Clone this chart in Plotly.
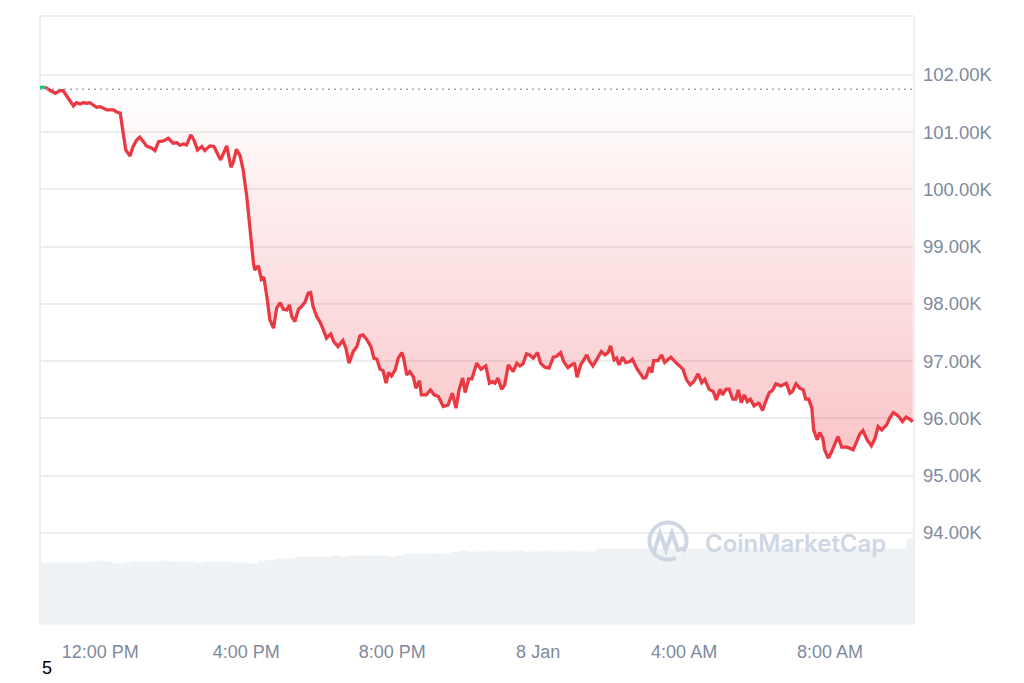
import numpy as np
import pandas as pd
import plotly.graph_objects as go

# ---------------- data ----------------
start = pd.Timestamp("2025-01-07 10:21")
window_minutes = 1437
baseline_price = 101.75  # K USD, opening price of the 24h window

price_minutes = [
    0, 8, 16, 25, 33, 38, 44, 49, 55, 60, 66, 71, 77, 82, 88, 93, 99, 104, 110, 115,
    121, 126, 132, 136, 141, 148, 153, 159, 164, 170, 175, 184, 189, 195, 203, 211, 219, 225, 230, 236,
    241, 248, 253, 259, 266, 271, 279, 286, 291, 297, 307, 314, 318, 323, 329, 334, 340, 345, 351, 353,
    359, 364, 368, 373, 378, 384, 389, 395, 400, 406, 410, 414, 419, 425, 430, 436, 441, 445, 449, 455,
    460, 466, 471, 478, 483, 490, 498, 503, 508, 515, 521, 526, 531, 537, 544, 549, 554, 559, 564, 569,
    573, 578, 584, 589, 595, 598, 603, 608, 614, 618, 624, 627, 635, 642, 648, 655, 663, 671, 678, 684,
    689, 695, 699, 705, 710, 718, 725, 733, 739, 744, 748, 753, 759, 764, 770, 778, 784, 789, 794, 800,
    805, 811, 818, 823, 830, 837, 844, 849, 856, 861, 868, 876, 879, 883, 889, 899, 904, 909, 915, 923,
    929, 934, 938, 944, 948, 952, 958, 963, 970, 974, 981, 986, 992, 996, 1002, 1006, 1009, 1016, 1022, 1027,
    1037, 1044, 1052, 1057, 1063, 1069, 1075, 1082, 1088, 1093, 1100, 1107, 1112, 1118, 1122, 1128, 1133, 1139, 1144, 1148,
    1153, 1158, 1163, 1168, 1174, 1181, 1183, 1188, 1193, 1199, 1204, 1210, 1218, 1227, 1233, 1237, 1243, 1249, 1255, 1259,
    1264, 1269, 1272, 1278, 1282, 1287, 1290, 1296, 1301, 1307, 1312, 1318, 1326, 1331, 1337, 1342, 1348, 1353, 1360, 1367,
    1373, 1378, 1384, 1392, 1397, 1403, 1411, 1418, 1424, 1430, 1435,
]
prices_k = [
    101.785, 101.785, 101.738, 101.680, 101.726, 101.726, 101.633, 101.563, 101.459, 101.516, 101.493, 101.516, 101.506, 101.516, 101.481, 101.436, 101.446, 101.424, 101.389, 101.389,
    101.389, 101.354, 101.331, 101.039, 100.690, 100.585, 100.748, 100.865, 100.912, 100.835, 100.760, 100.720, 100.678, 100.835, 100.847, 100.894, 100.807, 100.817, 100.772, 100.795,
    100.777, 100.952, 100.865, 100.690, 100.748, 100.678, 100.760, 100.748, 100.643, 100.515, 100.760, 100.388, 100.486, 100.702, 100.585, 100.341, 99.874, 99.293, 98.711, 98.594,
    98.664, 98.431, 98.466, 98.128, 97.721, 97.576, 97.925, 98.023, 97.907, 97.895, 97.983, 97.778, 97.691, 97.907, 97.953, 98.040, 98.187, 98.197, 97.953, 97.778,
    97.691, 97.546, 97.401, 97.476, 97.341, 97.254, 97.359, 97.226, 96.964, 97.167, 97.254, 97.441, 97.459, 97.383, 97.254, 97.052, 97.034, 96.860, 96.835, 96.615,
    96.800, 96.742, 96.847, 97.052, 97.149, 97.052, 96.760, 96.818, 96.720, 96.527, 96.660, 96.411, 96.411, 96.498, 96.411, 96.381, 96.206, 96.236, 96.440, 96.178,
    96.498, 96.707, 96.451, 96.689, 96.689, 96.964, 96.860, 96.917, 96.615, 96.643, 96.615, 96.702, 96.510, 96.585, 96.935, 96.818, 96.964, 96.917, 96.952, 97.127,
    97.109, 97.052, 97.149, 96.964, 96.894, 96.877, 97.069, 97.080, 97.149, 96.992, 96.887, 96.952, 96.952, 96.720, 96.935, 97.109, 96.992, 96.917, 97.034, 97.167,
    97.109, 97.149, 97.266, 97.022, 97.052, 96.935, 97.069, 96.975, 96.992, 97.034, 96.877, 96.790, 96.702, 96.713, 96.894, 96.800, 97.010, 97.010, 97.109, 96.975,
    97.069, 96.992, 96.917, 96.860, 96.673, 96.585, 96.643, 96.777, 96.625, 96.685, 96.510, 96.468, 96.323, 96.510, 96.411, 96.510, 96.510, 96.335, 96.335, 96.498,
    96.276, 96.411, 96.294, 96.335, 96.218, 96.266, 96.253, 96.136, 96.294, 96.451, 96.486, 96.603, 96.568, 96.615, 96.440, 96.468, 96.603, 96.528, 96.498, 96.335,
    96.335, 96.178, 95.799, 95.625, 95.752, 95.654, 95.450, 95.305, 95.403, 95.567, 95.682, 95.497, 95.497, 95.480, 95.450, 95.577, 95.729, 95.787, 95.625, 95.520,
    95.654, 95.857, 95.799, 95.887, 96.004, 96.101, 96.044, 95.944, 96.021, 95.986, 95.944,
]
green_count = 2  # first points above the opening price

volume_interval_min = 15
volumes_b = [
    20.26, 20.30, 20.20, 20.26, 20.50, 20.80, 20.90, 20.80, 20.00, 20.20,
    20.60, 20.60, 20.60, 21.00, 20.80, 20.60, 20.60, 20.50, 20.60, 20.60,
    20.60, 20.50, 20.20, 20.00, 21.00, 21.35, 21.60, 21.80, 22.20, 22.20,
    22.30, 22.20, 22.50, 22.45, 22.50, 22.55, 22.50, 22.50, 22.45, 22.50,
    23.30, 23.30, 23.35, 23.30, 23.30, 24.10, 24.15, 24.10, 24.10, 24.15,
    24.10, 24.10, 24.15, 24.10, 24.10, 24.15, 24.10, 24.10, 24.15, 24.10,
    24.10, 24.80, 24.80, 24.85, 24.80, 24.80, 24.80, 24.85, 24.80, 24.80,
    24.80, 24.85, 24.80, 24.80, 24.80, 24.85, 24.80, 24.80, 24.80, 24.85,
    24.80, 24.80, 24.80, 24.85, 24.80, 24.80, 24.80, 24.85, 24.80, 24.80,
    24.80, 24.85, 24.80, 24.80, 24.80, 28.20,
]

y_ticks = [94, 95, 96, 97, 98, 99, 100, 101, 102]
x_tick_times = ["2025-01-07 12:00", "2025-01-07 16:00", "2025-01-07 20:00",
                "2025-01-08 00:00", "2025-01-08 04:00", "2025-01-08 08:00"]
x_tick_labels = ["12:00 PM", "4:00 PM", "8:00 PM", "8 Jan", "4:00 AM", "8:00 AM"]

# ---------------- figure ----------------
RED = "#EA3943"
GREEN = "#16C784"
LABEL = "#808A9D"
GRID = "#EDEDED"

times = [start + pd.Timedelta(minutes=m) for m in price_minutes]
vol_times = [start + pd.Timedelta(minutes=volume_interval_min * (i + 0.5)) for i in range(len(volumes_b))]
end = start + pd.Timedelta(minutes=window_minutes)

fig = go.Figure()

fig.add_trace(go.Bar(
    x=vol_times, y=volumes_b, yaxis="y2",
    width=volume_interval_min * 60 * 1000,
    marker=dict(color="#EFF2F5", line=dict(width=0.6, color="#F5F7F9")),
    hoverinfo="skip", showlegend=False,
))

# baseline (invisible) for the fill
red_times = times[green_count - 1:]
red_prices = prices_k[green_count - 1:]
fig.add_trace(go.Scatter(
    x=[red_times[0], red_times[-1]], y=[baseline_price, baseline_price],
    mode="lines", line=dict(width=0, color="rgba(0,0,0,0)"),
    hoverinfo="skip", showlegend=False,
))
fig.add_trace(go.Scatter(
    x=red_times, y=red_prices, mode="lines",
    line=dict(color=RED, width=3.3, shape="linear"),
    fill="tonexty",
    fillgradient=dict(
        type="vertical",
        start=95.2, stop=baseline_price,
        colorscale=[[0, "rgba(234,57,67,0.30)"], [1, "rgba(234,57,67,0.0)"]],
    ),
    hoverinfo="skip", showlegend=False,
))
fig.add_trace(go.Scatter(
    x=times[:green_count], y=prices_k[:green_count], mode="lines",
    line=dict(color=GREEN, width=3.3),
    hoverinfo="skip", showlegend=False,
))

# ---- layout geometry (page has an 8px body margin) ----
OFF = 8
W, H = 1024 - OFF, 683 - OFF
PLOT_L, PLOT_R, PLOT_T, PLOT_B = 40, 914, 16, 625   # in page pixels
L, R, T, B = PLOT_L - OFF, (OFF + W) - PLOT_R, PLOT_T - OFF, (OFF + H) - PLOT_B
PW, PH = PLOT_R - PLOT_L, PLOT_B - PLOT_T


def px(x):
    return (x - PLOT_L) / PW


def py(y):
    return (PLOT_B - y) / PH


shapes = []
# dotted opening-price line
shapes.append(dict(type="line", xref="x", yref="y",
                   x0=start, x1=end - pd.Timedelta(minutes=3), y0=baseline_price, y1=baseline_price,
                   line=dict(color="#A0A7B4", width=1.5, dash="2px,4px"), layer="above"))
# frame (left, top, right)
for (x0, y0, x1, y1) in [(0, 0, 0, 1), (0, 1, 1, 1), (1, 0, 1, 1)]:
    shapes.append(dict(type="line", xref="paper", yref="paper", x0=x0, y0=y0, x1=x1, y1=y1,
                       line=dict(color="#EEEEEE", width=2), layer="below"))

# watermark logo (circle + M wave)
cx, cy, r = 668, 541, 18.5
ang = np.linspace(np.deg2rad(-35), np.deg2rad(-35) + np.deg2rad(330), 60)
arc = " L".join(f"{px(cx + r*np.cos(a)):.5f},{py(cy - r*np.sin(a)):.5f}" for a in ang)
shapes.append(dict(type="path", xref="paper", yref="paper", path="M" + arc,
                   line=dict(color="#CFD6E4", width=4), layer="above"))
wave_pts = [(654, 552), (660, 533), (666, 550), (672, 533), (678, 550), (684, 548)]
wave = " L".join(f"{px(x):.5f},{py(y):.5f}" for x, y in wave_pts)
shapes.append(dict(type="path", xref="paper", yref="paper", path="M" + wave,
                   line=dict(color="#CFD6E4", width=4), layer="above"))

annotations = [
    dict(text="CoinMarketCap", xref="paper", yref="paper", x=px(795), y=py(543),
         xanchor="center", yanchor="middle", showarrow=False,
         font=dict(family="Inter, Liberation Sans, Arial", size=24, color="#CFD6E4", weight=600)),
    dict(text="5", xref="paper", yref="paper", x=px(47), y=py(668),
         xanchor="center", yanchor="middle", showarrow=False,
         font=dict(family="Liberation Sans, Arial", size=18, color="#000000")),
]

fig.update_layout(
    width=W, height=H,
    margin=dict(l=L, r=R, t=T, b=B, pad=0),
    paper_bgcolor="white", plot_bgcolor="white",
    showlegend=False, bargap=0,
    shapes=shapes, annotations=annotations,
    xaxis=dict(
        type="date", range=[start, end],
        tickvals=[pd.Timestamp(t) for t in x_tick_times], ticktext=x_tick_labels,
        showgrid=False, zeroline=False, showline=False, ticks="",
        ticklabelstandoff=14,
        tickfont=dict(family="Liberation Sans, Arial", size=18, color=LABEL),
    ),
    yaxis=dict(
        side="right", range=[92.39, 103.03],
        tickvals=y_ticks, ticktext=[f"{v:.2f}K" for v in y_ticks],
        showgrid=True, gridcolor=GRID, gridwidth=1.5,
        zeroline=False, showline=False, ticks="",
        ticklabelstandoff=8,
        tickfont=dict(family="Liberation Sans, Arial", size=18.5, color=LABEL),
    ),
    yaxis2=dict(overlaying="y", range=[0, 200], visible=False),
)

fig.write_html("out.html")
